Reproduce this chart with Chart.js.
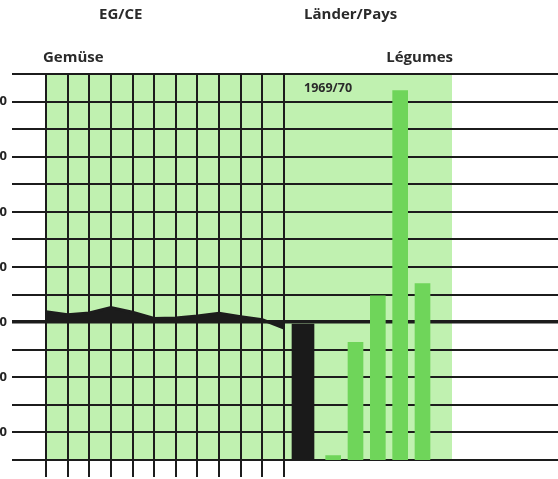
<!DOCTYPE html>
<html lang="de">
<head>
<meta charset="utf-8">
<title>EG/CE Gemüse</title>
<style>
  html, body { margin: 0; padding: 0; background: #fff; overflow: hidden; }
  #wrap { position: relative; width: 558px; height: 479px; overflow: hidden; }
  #c { position: absolute; left: -28px; top: 0; }
</style>
<script src="https://cdn.jsdelivr.net/npm/chart.js@4.4.1/dist/chart.umd.min.js"></script>
</head>
<body>
<div id="wrap"><canvas id="c" width="586" height="479"></canvas></div>
<script>
// EG/CE Selbstversorgung Gemüse (%), Jahre 1958/59 - 1969/70
var years = ['1958/59', '1959/60', '1960/61', '1961/62', '1962/63', '1963/64',
  '1964/65', '1965/66', '1966/67', '1967/68', '1968/69', '1969/70'];
var egSeries = [103.8, 102.7, 103.3, 105.3, 103.6, 101.3, 101.5, 102.2, 103.2, 102.0, 100.9, 97.8];

// Länder/Pays 1969/70
var egLabel = ['EG/CE'];
var egValue = [99.3];
var countries = ['D', 'F', 'I', 'NL', 'UEBL', ''];
var countryValues = [51.6, 92.7, 109.5, 184, 114, null];

var yTicksShown = [60, 80, 100, 120, 140, 160, 180];

var INK = '#1c1c1c';
var PANEL = '#c0f1b0';
var BAR = '#6fd55a';

var panels = {
  id: 'panels',
  beforeDraw: function(chart) {
    var a = chart.chartArea, s = chart.scales, ctx = chart.ctx;
    ctx.save();
    ctx.fillStyle = PANEL;
    ctx.fillRect(s.xYears.left, a.top, s.xYears.right - s.xYears.left, a.bottom - a.top);
    // right panel stops a little short of the last (empty) slot
    ctx.fillRect(s.xBlack.left, a.top, s.xBars.right - 4 - s.xBlack.left, a.bottom - a.top);
    ctx.restore();
  },
  afterDraw: function(chart) {
    var s = chart.scales, ctx = chart.ctx;
    var yl = s.xYears.left, bl = s.xBlack.left;
    ctx.save();
    ctx.fillStyle = '#2a2a2a';
    ctx.textBaseline = 'alphabetic';
    ctx.font = 'bold 15px "Open Sans"';
    ctx.textAlign = 'left';
    ctx.fillText('EG/CE', yl + 53, 18.5);
    ctx.fillText('Gemüse', yl - 3, 61.5);
    ctx.fillText('Länder/Pays', bl + 20, 18.5);
    ctx.textAlign = 'right';
    ctx.fillText('Légumes', s.xBars.right - 3, 61.5);
    ctx.textAlign = 'left';
    ctx.font = 'bold 12.5px "Open Sans"';
    ctx.fillText('1969/70', bl + 20, 91.5);
    ctx.restore();
  }
};

function hiddenX(weight, labels) {
  return {
    type: 'category', labels: labels, position: 'bottom',
    stack: 'x', stackWeight: weight,
    border: { display: false },
    grid: { display: false, drawTicks: true, tickLength: 17 },
    ticks: { display: false }
  };
}

var scales = {
  y: {
    type: 'linear', position: 'left', min: 50, max: 190, beginAtZero: false,
    border: { display: false },
    grid: {
      color: INK, drawTicks: false,
      lineWidth: function(c) { return c.tick && c.tick.value === 100 ? 3.5 : 2; }
    },
    ticks: {
      stepSize: 10, padding: 5, color: '#222',
      font: { family: 'Open Sans', weight: 'bold', size: 13 },
      callback: function(v) { return yTicksShown.indexOf(v) >= 0 ? String(v) : ''; }
    },
    afterFit: function(sc) { sc.width = 40; }
  },
  xPad: hiddenX(34, ['']),
  xYears: {
    type: 'category', labels: years, position: 'bottom', offset: false,
    stack: 'x', stackWeight: 238,
    border: { display: false },
    grid: { display: true, color: INK, lineWidth: 2, drawTicks: true, tickLength: 17, offset: false },
    ticks: { display: false }
  },
  xBlack: hiddenX(38, egLabel),
  xBars: hiddenX(134, countries),
  xRest: hiddenX(102, [''])
};

new Chart(document.getElementById('c'), {
  type: 'bar',
  data: {
    datasets: [
      {
        type: 'line', label: 'EG/CE', data: egSeries, xAxisID: 'xYears', yAxisID: 'y',
        borderColor: INK, borderWidth: 3, pointRadius: 0, tension: 0,
        fill: { value: 100 }, backgroundColor: INK
      },
      {
        label: 'EG/CE 1969/70', data: egValue, xAxisID: 'xBlack', yAxisID: 'y',
        backgroundColor: '#1a1a1a', barThickness: 22, grouped: false
      },
      {
        label: 'Länder 1969/70', data: countryValues, xAxisID: 'xBars', yAxisID: 'y',
        backgroundColor: BAR, barThickness: 15, grouped: false
      }
    ]
  },
  options: {
    responsive: false,
    animation: false,
    devicePixelRatio: 1,
    layout: { padding: { top: 74, bottom: 2, left: 0, right: 0 } },
    plugins: { legend: { display: false }, tooltip: { enabled: false }, title: { display: false } },
    scales: scales
  },
  plugins: [panels]
});
</script>
</body>
</html>
